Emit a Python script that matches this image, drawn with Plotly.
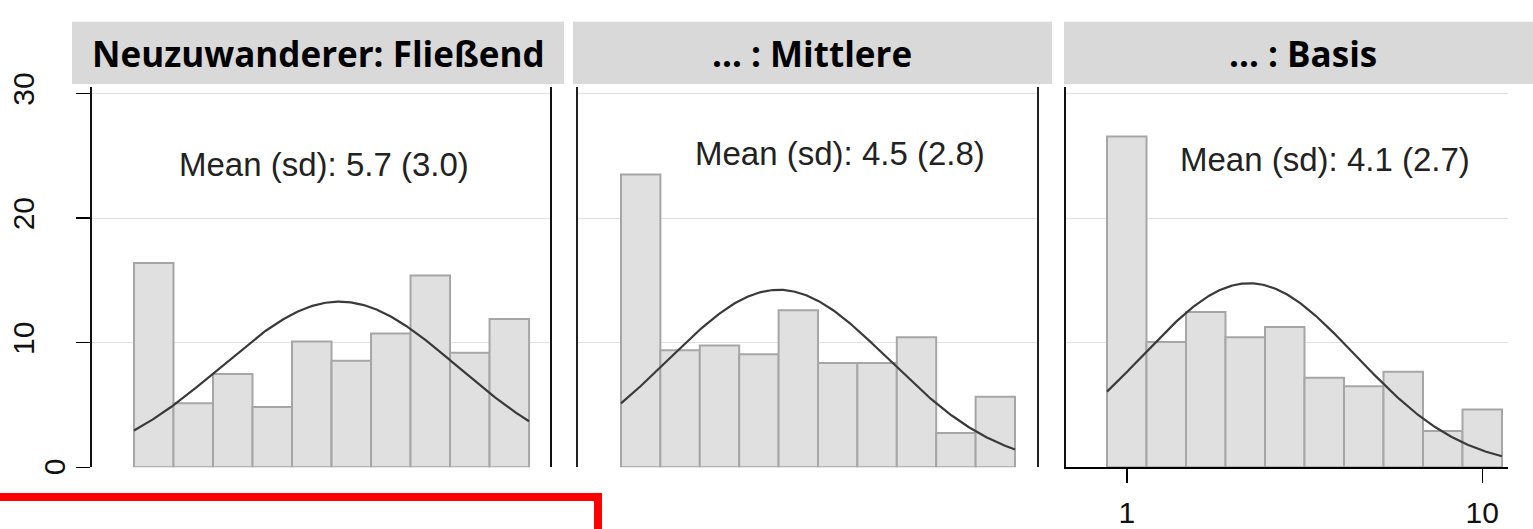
import numpy as np
import plotly.graph_objects as go

W, H = 1533, 529

# ---------------- data ----------------
PANEL_TITLES = ["Neuzuwanderer: Fließend", "\u2026 : Mittlere", "\u2026 : Basis"]
BINS = [1, 2, 3, 4, 5, 6, 7, 8, 9, 10]
PCT_FLIESSEND = [16.4, 5.15, 7.5, 4.85, 10.1, 8.55, 10.75, 15.4, 9.2, 11.9]
PCT_MITTLERE = [23.5, 9.4, 9.77, 9.08, 12.6, 8.38, 8.38, 10.44, 2.75, 5.67]
PCT_BASIS = [26.56, 10.05, 12.46, 10.44, 11.26, 7.2, 6.5, 7.67, 2.92, 4.64]
MEANS = [5.7, 4.5, 4.1]
SDS = [3.0, 2.8, 2.7]
MEAN_LABELS = ["Mean (sd): 5.7 (3.0)", "Mean (sd): 4.5 (2.8)", "Mean (sd): 4.1 (2.7)"]
Y_TICKS = [0, 10, 20, 30]
Y_TICK_LABELS = ["", "10", "20", "30"]   # "0" is drawn separately (offset in original)
Y_ZERO_LABEL = "0"
X_TICKS_BOTTOM = [1, 10]
X_TICK_LABELS_BOTTOM = ["1", "10"]

SERIES = [PCT_FLIESSEND, PCT_MITTLERE, PCT_BASIS]

# ---------------- layout geometry (pixels) ----------------
PANEL_PX = [(92, 550), (578, 1037), (1066, 1508)]
X_RANGES = [(-0.563, 11.03), (-0.591, 11.058), (-0.538, 10.652)]
Y_PX = (76, 473)
Y_RANGE = (0, 30.54)
TITLE_BOX_PX = [(72, 564), (573, 1052), (1064, 1540)]
TITLE_CENTER_PX = [318, 812, 1303]
TITLE_Y_PX = (8, 73)
MEAN_POS = [(5.31, 24.3), (6.05, 25.2), (6.02, 24.7)]


def px(xp):
    return xp / W


def py(yp):
    return 1 - yp / H


fig = go.Figure()

for i in range(3):
    xa = "x" if i == 0 else f"x{i+1}"
    ya = "y" if i == 0 else f"y{i+1}"
    fig.add_trace(go.Bar(
        x=BINS, y=SERIES[i], width=1,
        marker=dict(color="#e0e0e0", line=dict(color="#a6a6a6", width=2)),
        xaxis=xa, yaxis=ya, hoverinfo="skip",
    ))
    xs = np.linspace(0.5, 10.5, 300)
    m, s = MEANS[i], SDS[i]
    ys = 100 * np.exp(-0.5 * ((xs - m) / s) ** 2) / (s * np.sqrt(2 * np.pi))
    fig.add_trace(go.Scatter(
        x=xs, y=ys, mode="lines", line=dict(color="#3a3a3a", width=2.2),
        xaxis=xa, yaxis=ya, hoverinfo="skip",
    ))

tickfont = dict(family="Liberation Sans, Arial, sans-serif", size=30, color="#111111")
ydom = [py(Y_PX[1]), py(Y_PX[0])]

layout = dict(
    width=W, height=H,
    margin=dict(l=0, r=0, t=0, b=0),
    paper_bgcolor="white", plot_bgcolor="white",
    showlegend=False, bargap=0,
)

for i in range(3):
    xk = "xaxis" if i == 0 else f"xaxis{i+1}"
    yk = "yaxis" if i == 0 else f"yaxis{i+1}"
    xa_anchor = "y" if i == 0 else f"y{i+1}"
    ya_anchor = "x" if i == 0 else f"x{i+1}"
    xd = [px(PANEL_PX[i][0]), px(PANEL_PX[i][1])]
    xax = dict(domain=xd, range=list(X_RANGES[i]), anchor=xa_anchor,
               showgrid=False, zeroline=False, fixedrange=True)
    if i == 2:
        xax.update(showline=True, linecolor="black", linewidth=1.5,
                   ticks="outside", ticklen=14, tickwidth=1.5, tickcolor="black",
                   tickvals=X_TICKS_BOTTOM, ticktext=X_TICK_LABELS_BOTTOM,
                   tickfont=tickfont, ticklabelstandoff=4)
    else:
        xax.update(showline=False, ticks="", showticklabels=False)
    yax = dict(domain=ydom, range=list(Y_RANGE), anchor=ya_anchor,
               tickvals=Y_TICKS, ticktext=Y_TICK_LABELS,
               showgrid=True, gridcolor="#e2e2e2", gridwidth=1.3,
               zeroline=False, fixedrange=True)
    if i == 0:
        yax.update(showline=True, linecolor="#111111", linewidth=1.8, mirror=True,
                   ticks="outside", ticklen=14, tickwidth=1.5, tickcolor="black",
                   tickangle=-90, tickfont=tickfont, ticklabelstandoff=30)
    elif i == 1:
        yax.update(showline=True, linecolor="#222222", linewidth=2, mirror=True,
                   ticks="", showticklabels=False)
    else:
        yax.update(showline=True, linecolor="#111111", linewidth=1.8, mirror=False,
                   ticks="", showticklabels=False)
    layout[xk] = xax
    layout[yk] = yax

shapes = []
annotations = []
for i in range(3):
    shapes.append(dict(type="rect", xref="paper", yref="paper",
                       x0=px(TITLE_BOX_PX[i][0]), x1=px(TITLE_BOX_PX[i][1]),
                       y0=py(TITLE_Y_PX[1]), y1=py(TITLE_Y_PX[0]),
                       fillcolor="#d9d9d9", line=dict(width=0), layer="above"))
    annotations.append(dict(xref="paper", yref="paper",
                            x=px(TITLE_CENTER_PX[i]), y=py(41),
                            xanchor="center", yanchor="middle", showarrow=False,
                            text=PANEL_TITLES[i],
                            font=dict(family="Open Sans, sans-serif", size=35,
                                      color="black", weight=700)))
    xa = "x" if i == 0 else f"x{i+1}"
    ya = "y" if i == 0 else f"y{i+1}"
    annotations.append(dict(xref=xa, yref=ya, x=MEAN_POS[i][0], y=MEAN_POS[i][1],
                            xanchor="center", yanchor="middle", showarrow=False,
                            text=MEAN_LABELS[i],
                            font=dict(family="Liberation Sans, Arial, sans-serif",
                                      size=33, color="#222222")))

# y-axis "0" label, sitting closer to the axis than the other labels
annotations.append(dict(xref="paper", yref="y", x=px(54), y=Y_TICKS[0],
                        xanchor="center", yanchor="middle", showarrow=False,
                        textangle=-90, text=Y_ZERO_LABEL, font=tickfont))

# red annotation frame line
ry = py(504)
rx = px(598)
shapes.append(dict(type="path", xref="paper", yref="paper",
                   path=f"M -0.01,{ry} L {rx},{ry} L {rx},-0.05",
                   line=dict(color="#ff0000", width=8)))

layout["shapes"] = shapes
layout["annotations"] = annotations
fig.update_layout(**layout)

fig.write_html("out.html",
               config={"displayModeBar": False, "staticPlot": True},
               post_script="document.body.style.margin='0px';document.body.style.overflow='hidden';")
